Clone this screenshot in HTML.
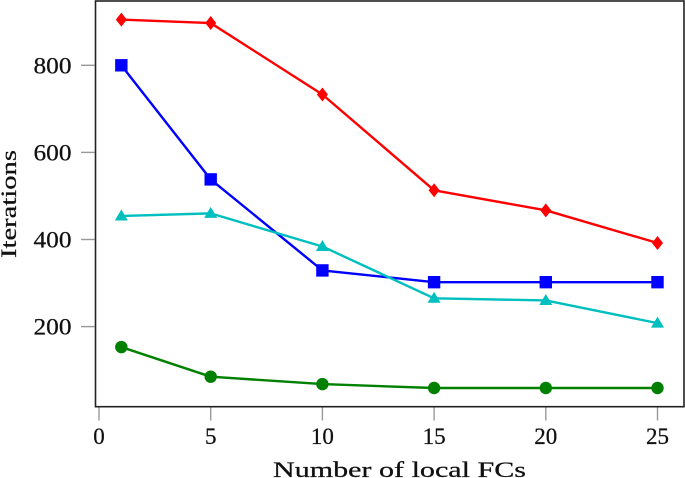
<!DOCTYPE html>
<html>
<head>
<meta charset="utf-8">
<style>
html,body{margin:0;padding:0;background:#fff;}
svg{display:block;}
text{font-family:"Liberation Serif",serif;fill:#111;stroke:#111;stroke-width:0.25px;}
</style>
</head>
<body>
<svg id="chart" xmlns="http://www.w3.org/2000/svg" width="685" height="478" viewBox="0 0 685 478"></svg>
<script>
const categories = [1, 5, 10, 15, 20, 25];
const redValues = [905, 897, 733, 513, 467, 392];
const blueValues = [800, 538, 329, 302, 302, 302];
const cyanValues = [454, 460, 384, 265, 260, 208];
const greenValues = [153, 85, 68, 59, 59, 59];
const xTickValues = [0, 5, 10, 15, 20, 25];
const yTickValues = [200, 400, 600, 800];

const NS = 'http://www.w3.org/2000/svg';
const svg = document.getElementById('chart');
function xScale(v) { return 99 + v * 22.34; }
function yScale(v) { return 326.6 - (v - 200) * 0.4355; }
function make(tag, attrs, parent) {
  const el = document.createElementNS(NS, tag);
  for (const k in attrs) el.setAttribute(k, attrs[k]);
  (parent || svg).appendChild(el);
  return el;
}

const frame = make('rect', {x: 95.5, y: 1, width: 588.5, height: 405.7, fill: 'none', stroke: '#222', 'stroke-width': 1.6});



xTickValues.forEach(function (v) {
  const t = make('line', {x1: xScale(v), x2: xScale(v), y1: 407.5, y2: 420.5, stroke: '#999', 'stroke-width': 1.4});
  
  
  const l = make('text', {x: xScale(v), y: 444, 'font-size': 23, 'text-anchor': 'middle'});
  l.textContent = v;
  
  
});
yTickValues.forEach(function (v) {
  const t = make('line', {x1: 81, x2: 94.5, y1: yScale(v), y2: yScale(v), stroke: '#999', 'stroke-width': 1.4});
  
  
  const l = make('text', {x: 71.5, y: yScale(v) + 8, 'font-size': 23, 'text-anchor': 'end', textLength: 38, lengthAdjust: 'spacingAndGlyphs'});
  l.textContent = v;
  
  
});

const xTitle = make('text', {x: 273, y: 477, 'font-size': 22, textLength: 253, lengthAdjust: 'spacingAndGlyphs'});
xTitle.textContent = 'Number of local FCs';



const yTitle = make('text', {x: 0, y: 0, 'font-size': 22, transform: 'translate(16,258) rotate(-90)', textLength: 108, lengthAdjust: 'spacingAndGlyphs'});
yTitle.textContent = 'Iterations';



function drawMarker(kind, cx, cy, color, g) {
  if (kind === 'diamond') {
    return make('polygon', {points: [cx, cy - 7, cx + 5.5, cy, cx, cy + 7, cx - 5.5, cy].join(' '), fill: color}, g);
  }
  if (kind === 'square') {
    return make('rect', {x: cx - 6.2, y: cy - 6.2, width: 12.4, height: 12.4, fill: color}, g);
  }
  if (kind === 'triangle') {
    return make('polygon', {points: [cx, cy - 6.5, cx + 6.5, cy + 4.5, cx - 6.5, cy + 4.5].join(' '), fill: color}, g);
  }
  return make('circle', {cx: cx, cy: cy, r: 6.2, fill: color}, g);
}

function drawSeries(name, values, color, kind) {
  const g = make('g', {});
  
  
  const pts = values.map(function (v, i) { return xScale(categories[i]) + ',' + yScale(v); }).join(' ');
  const line = make('polyline', {points: pts, fill: 'none', stroke: color, 'stroke-width': 2.4, 'stroke-linejoin': 'round'}, g);
  
  
  values.forEach(function (v, i) {
    const m = drawMarker(kind, xScale(categories[i]), yScale(v), color, g);
    
    
  });
}

drawSeries('red', redValues, '#ff0000', 'diamond');
drawSeries('blue', blueValues, '#0000ff', 'square');
drawSeries('cyan', cyanValues, '#00bfbf', 'triangle');
drawSeries('green', greenValues, '#008000', 'circle');
</script>
</body>
</html>
